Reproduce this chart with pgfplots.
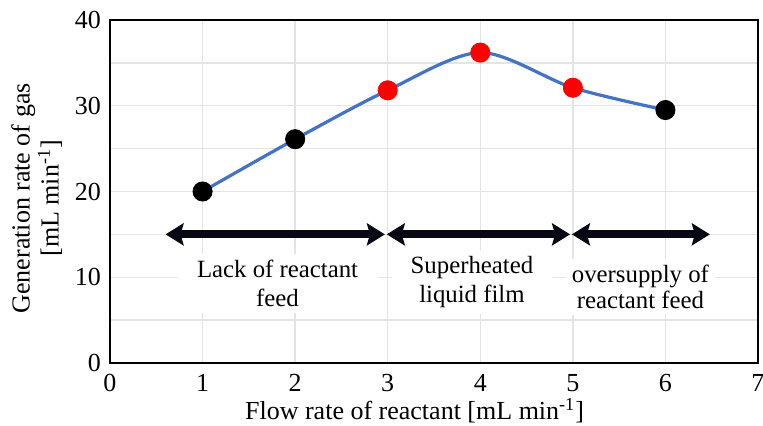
\documentclass[border=0pt]{standalone}
\usepackage{pgfplots}
\pgfplotsset{compat=1.18}
\usepackage{fontspec}
\setmainfont{Liberation Serif}
\usetikzlibrary{arrows.meta}

\definecolor{lineblue}{RGB}{68,114,196}
\definecolor{ptred}{RGB}{255,0,0}
\definecolor{gridgray}{RGB}{228,228,228}
\definecolor{arrowink}{RGB}{8,8,20}

\begin{document}
\begin{tikzpicture}
\begin{axis}[
  scale only axis,
  width=324pt, height=171.5pt,
  xmin=0, xmax=7, ymin=0, ymax=40,
  xtick={0,1,...,7},
  ytick={0,10,...,40},
  minor ytick={5,15,25,35},
  xmajorgrids, ymajorgrids, yminorgrids,
  grid style={gridgray, line width=0.7pt},
  minor grid style={gridgray, line width=0.7pt},
  tick style={draw=none},
  axis line style={black, line width=1pt},
  /pgf/number format/assume math mode=true,
  ticklabel style={font=\fontsize{13}{15}\selectfont},
  xticklabel style={yshift=-2pt},
  yticklabel style={xshift=-1pt},
  xlabel={Flow rate of reactant [mL min\textsuperscript{-1}]},
  xlabel style={font=\fontsize{13}{15}\selectfont, at={(axis description cs:0.47,0)}, anchor=center, yshift=-24pt},
  ylabel={Generation rate of gas\\\relax [mL min\textsuperscript{-1}]},
  ylabel style={font=\fontsize{13}{14.5}\selectfont, align=center, at={(axis description cs:-0.113,0.48)}, anchor=center},
]
% curve
\addplot[lineblue, line width=1.6pt, smooth, tension=0.5, no marks]
  coordinates {(1,20.0)(2,26.1)(3,31.8)(4,36.2)(5,32.1)(6,29.5)};
% black points
\addplot[only marks, mark=*, mark size=4.8pt, black, mark options={fill=black, draw=black}]
  coordinates {(1,20.0)(2,26.1)(6,29.5)};
% red points
\addplot[only marks, mark=*, mark size=4.8pt, ptred, mark options={fill=ptred, draw=ptred}]
  coordinates {(3,31.8)(4,36.2)(5,32.1)};
% regime arrows
\addplot[arrowink, line width=4pt, {Stealth[length=9pt,width=11pt,inset=1.5pt]}-{Stealth[length=9pt,width=11pt,inset=1.5pt]}]
  coordinates {(0.6,15)(2.97,15)};
\addplot[arrowink, line width=4pt, {Stealth[length=9pt,width=11pt,inset=1.5pt]}-{Stealth[length=9pt,width=11pt,inset=1.5pt]}]
  coordinates {(2.99,15)(4.97,15)};
\addplot[arrowink, line width=4pt, {Stealth[length=9pt,width=11pt,inset=1.5pt]}-{Stealth[length=9pt,width=11pt,inset=1.5pt]}]
  coordinates {(4.99,15)(6.48,15)};
% regime labels
\node[fill=white, align=center, inner sep=3pt, minimum width=100pt, font=\fontsize{12.4}{14.5}\selectfont]
  at (axis cs:1.81,9.3) {Lack of reactant\\feed};
\node[fill=white, align=center, inner sep=3pt, minimum width=80pt, font=\fontsize{12.4}{14.5}\selectfont]
  at (axis cs:3.91,9.4) {Superheated\\liquid film};
\node[fill=white, align=center, inner sep=3pt, minimum width=72pt, font=\fontsize{12.4}{13}\selectfont]
  at (axis cs:5.73,8.9) {oversupply of\\reactant feed};
\end{axis}
\pgfresetboundingbox
\path[use as bounding box] (-55pt,-31.5pt) rectangle (326.5pt,181.5pt);
\end{tikzpicture}
\end{document}
